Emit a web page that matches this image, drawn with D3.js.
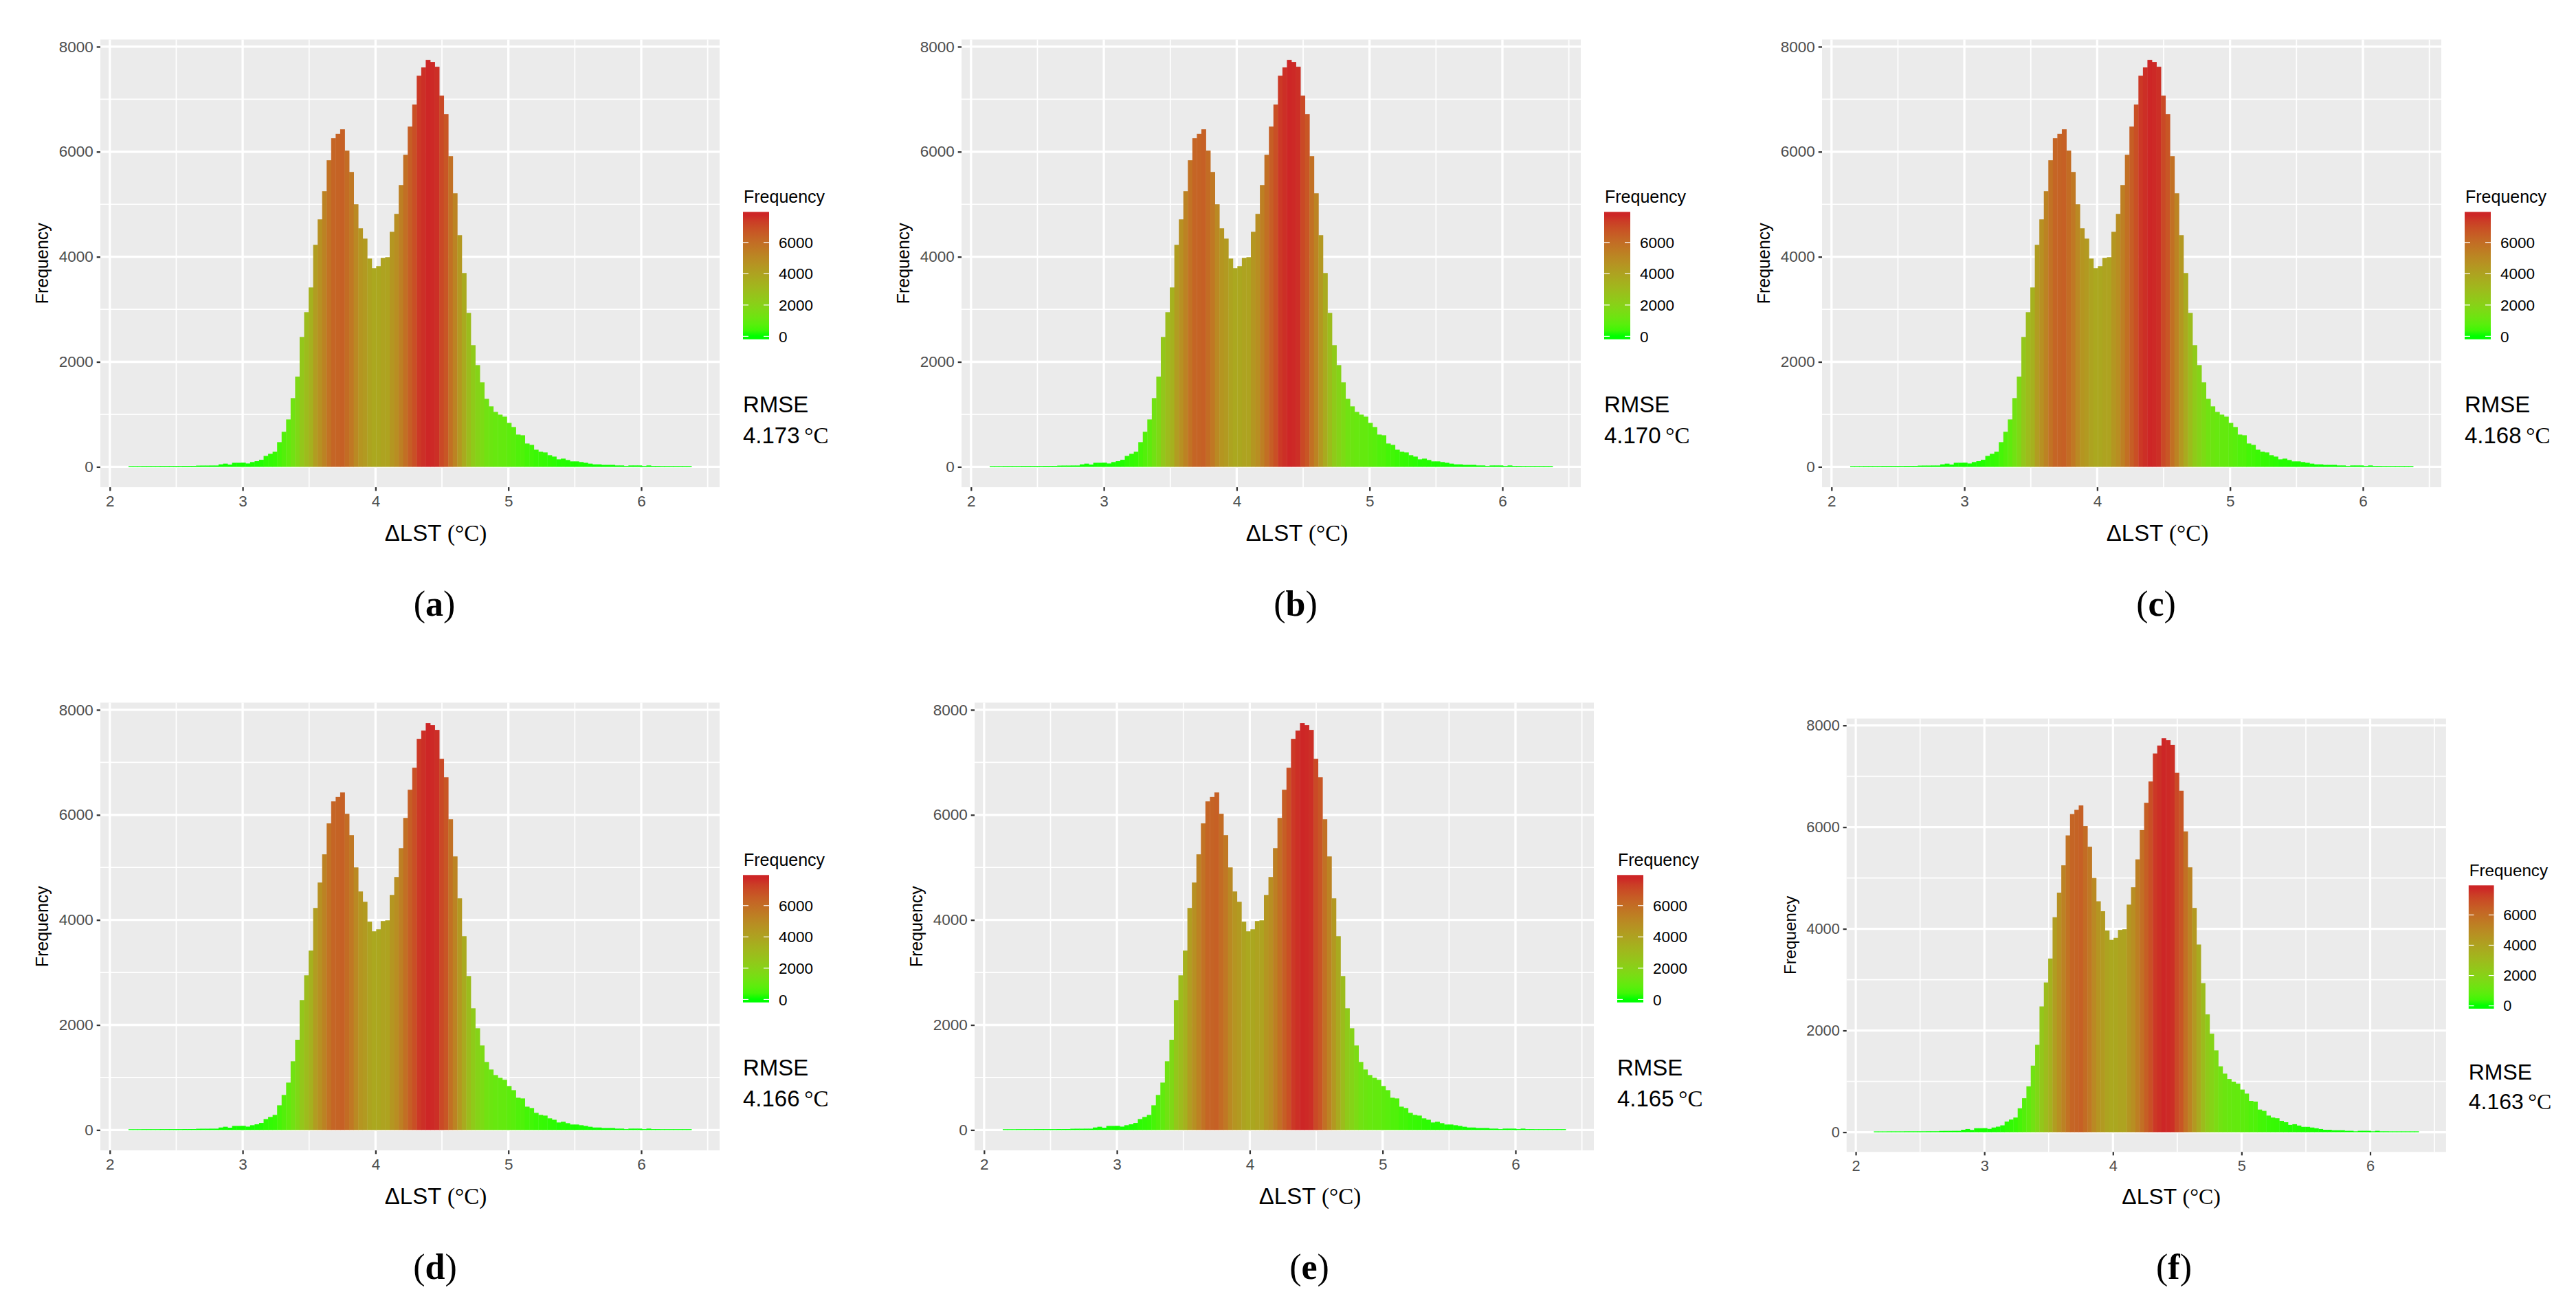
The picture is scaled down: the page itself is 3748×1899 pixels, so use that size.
<!DOCTYPE html>
<html>
<head>
<meta charset="utf-8">
<script src="https://cdn.jsdelivr.net/npm/d3@7"></script>
<style>
  body { margin: 0; background: #fff; }
  text { font-family: "Liberation Sans", Arial, sans-serif; }
  .serif { font-family: "Liberation Serif", "Times New Roman", serif; }
</style>
</head>
<body>
<div id="figure"></div>
<script>
const W = 3748, H = 1899;

// counts per bin of dLST; the six runs look the same
const counts = [
  15, 15, 15, 16, 16, 16, 16, 17, 17, 17, 17, 17, 18, 18, 18,
  24, 25, 25, 26, 26, 48, 62, 44, 78, 78, 80, 65, 92, 109, 135,
  209, 249, 288, 471, 668, 903, 1309, 1719, 2474, 2945,
  3416, 4228, 4712, 5249, 5838, 6257, 6340, 6427, 6021, 5615,
  5000, 4542, 4346, 3966, 3783, 3822, 3979, 3992, 4476, 4817,
  5366, 5942, 6479, 6898, 7448, 7605, 7749, 7710, 7618, 7068,
  6715, 5916, 5209, 4411, 3691, 2932, 2317, 1937, 1610, 1296,
  1152, 1047, 995, 956, 838, 759, 615, 602, 445, 419,
  327, 288, 275, 223, 196, 144, 157, 131, 105, 105,
  92, 78, 62, 48, 48, 38, 38, 38, 27, 27,
  17, 27, 27, 27, 17, 27, 17, 17, 16, 16, 16, 16, 16, 16, 16
];
const binStart = 2.1405;
const binWidth = 0.0339;

const panelLetters = ["a", "b", "c", "d", "e", "f"];
const rmseValues = ["4.173", "4.170", "4.168", "4.166", "4.165", "4.163"];
const xTicks = [2, 3, 4, 5, 6];
const xMinor = [2.5, 3.5, 4.5, 5.5, 6.5];
const yTicks = [0, 2000, 4000, 6000, 8000];
const yMinor = [1000, 3000, 5000, 7000];
const legendTicks = [0, 2000, 4000, 6000];

// placement of every subfigure on the page (panel f is a smaller image)
const layout = [
  {dx: 0,      dy: 0,     s: 1,     cx: 632,  cy: 896},
  {dx: 1253,   dy: 0,     s: 1,     cx: 1885, cy: 896},
  {dx: 2505,   dy: 0,     s: 1,     cx: 3137, cy: 896},
  {dx: 0,      dy: 965,   s: 1,     cx: 633,  cy: 1861},
  {dx: 1272,   dy: 965,   s: 1,     cx: 1905, cy: 1861},
  {dx: 2545.4, dy: 989.9, s: 0.968, cx: 3163, cy: 1861}
];

// panel box inside one subfigure
const P = {left: 146, right: 1047, top: 57.5, bottom: 709};
const CB = {x: 1081, w: 38, top: 308.3, bottom: 493.7};

const svg = d3.select("#figure").append("svg")
  .attr("width", W).attr("height", H)
  .style("display", "block")
  .style("background", "#fff");

const bins = counts.map((c, i) => ({x0: binStart + i * binWidth, x1: binStart + (i + 1) * binWidth, c: c}));
const lo = bins[0].x0, hi = bins[bins.length - 1].x1;
const span = hi - lo;
const maxC = d3.max(counts), minC = d3.min(counts);

const xScale = d3.scaleLinear().domain([lo - 0.05 * span, hi + 0.05 * span]).range([P.left, P.right]);
const yScale = d3.scaleLinear().domain([-0.05 * maxC, 1.05 * maxC]).range([P.bottom, P.top]);
const color = d3.scaleLinear().domain([minC, maxC]).range(["#00ff00", "#cd2626"]).interpolate(d3.interpolateLab);

const cbH = CB.bottom - CB.top;
const cbScale = d3.scaleLinear().domain([minC, maxC]).range([CB.bottom - cbH / 40, CB.top + cbH / 40]);

// shared gradient for colour bars
const grad = svg.append("defs").append("linearGradient")
  .attr("id", "cbGrad")
  .attr("x1", 0).attr("y1", 1).attr("x2", 0).attr("y2", 0);
d3.range(0, 21).forEach(k => {
  const v = minC + (maxC - minC) * k / 20;
  grad.append("stop")
    .attr("offset", (CB.bottom - cbScale(v)) / cbH)
    .attr("stop-color", color(v));
});

const drawPanel = (i) => {
  const L = layout[i];
  const g = svg.append("g").attr("transform", `translate(${L.dx},${L.dy}) scale(${L.s})`);

  g.append("rect")
    .attr("x", P.left).attr("y", P.top)
    .attr("width", P.right - P.left).attr("height", P.bottom - P.top)
    .attr("fill", "#ebebeb");

  // grid
  g.selectAll(".gyMinor").data(yMinor).enter().append("line")
    .attr("x1", P.left).attr("x2", P.right)
    .attr("y1", d => yScale(d)).attr("y2", d => yScale(d))
    .attr("stroke", "#fff").attr("stroke-width", 1.7);
  g.selectAll(".gxMinor").data(xMinor).enter().append("line")
    .attr("y1", P.top).attr("y2", P.bottom)
    .attr("x1", d => xScale(d)).attr("x2", d => xScale(d))
    .attr("stroke", "#fff").attr("stroke-width", 1.7);
  g.selectAll(".gy").data(yTicks).enter().append("line")
    .attr("x1", P.left).attr("x2", P.right)
    .attr("y1", d => yScale(d)).attr("y2", d => yScale(d))
    .attr("stroke", "#fff").attr("stroke-width", 3.3);
  g.selectAll(".gx").data(xTicks).enter().append("line")
    .attr("y1", P.top).attr("y2", P.bottom)
    .attr("x1", d => xScale(d)).attr("x2", d => xScale(d))
    .attr("stroke", "#fff").attr("stroke-width", 3.3);

  // bars
  g.selectAll(".bar").data(bins).enter().append("rect")
    .attr("x", d => xScale(d.x0))
    .attr("width", d => xScale(d.x1) - xScale(d.x0) + 0.4)
    .attr("y", d => yScale(d.c))
    .attr("height", d => yScale(0) - yScale(d.c))
    .attr("fill", d => color(d.c));

  // axes
  const yAxis = d3.axisLeft(yScale).tickValues(yTicks).tickSize(5.3).tickPadding(5).tickFormat(d3.format("d"));
  const xAxis = d3.axisBottom(xScale).tickValues(xTicks).tickSize(5.3).tickPadding(7).tickFormat(d3.format("d"));
  const ya = g.append("g").attr("transform", `translate(${P.left},0)`).call(yAxis);
  const xa = g.append("g").attr("transform", `translate(0,${P.bottom})`).call(xAxis);
  [ya, xa].forEach(a => {
    a.select(".domain").remove();
    a.selectAll("line").attr("stroke", "#333").attr("stroke-width", 2.3);
    a.selectAll("text").attr("fill", "#4d4d4d").style("font-size", "22.5px")
      .style("font-family", "'Liberation Sans', Arial, sans-serif");
  });

  // axis titles
  g.append("text")
    .attr("transform", `translate(70,${(P.top + P.bottom) / 2}) rotate(-90)`)
    .attr("text-anchor", "middle")
    .style("font-size", "25px")
    .text("Frequency");
  const xt = g.append("text")
    .attr("x", 634).attr("y", 787.3)
    .attr("text-anchor", "middle")
    .style("font-size", "33px");
  xt.append("tspan").text("\u0394LST ");
  xt.append("tspan").attr("class", "serif").text("(\u00b0C)");

  // legend
  g.append("text").attr("x", 1082).attr("y", 295).style("font-size", "25px").text("Frequency");
  g.append("rect")
    .attr("x", CB.x).attr("y", CB.top).attr("width", CB.w).attr("height", cbH)
    .attr("fill", "url(#cbGrad)");
  legendTicks.forEach(v => {
    const y = cbScale(v);
    g.append("line").attr("x1", CB.x).attr("x2", CB.x + 8).attr("y1", y).attr("y2", y)
      .attr("stroke", "#fff").attr("stroke-width", 1.2);
    g.append("line").attr("x1", CB.x + CB.w - 8).attr("x2", CB.x + CB.w).attr("y1", y).attr("y2", y)
      .attr("stroke", "#fff").attr("stroke-width", 1.2);
    g.append("text").attr("x", 1133).attr("y", y).attr("dy", "0.36em")
      .style("font-size", "22.5px").text(v);
  });

  // RMSE note
  g.append("text").attr("x", 1081).attr("y", 600).style("font-size", "33px").text("RMSE");
  const rv = g.append("text").attr("x", 1081).attr("y", 645).style("font-size", "33px");
  rv.append("tspan").text(rmseValues[i] + "\u2009");
  rv.append("tspan").attr("class", "serif").text("\u00b0C");

  // sub caption
  const cap = svg.append("text")
    .attr("class", "serif")
    .attr("x", L.cx).attr("y", L.cy)
    .attr("text-anchor", "middle")
    .style("font-size", "52px");
  cap.append("tspan").text("(");
  cap.append("tspan").style("font-weight", "bold").text(panelLetters[i]);
  cap.append("tspan").text(")");
};

panelLetters.forEach((_d, i) => drawPanel(i));
</script>
</body>
</html>
